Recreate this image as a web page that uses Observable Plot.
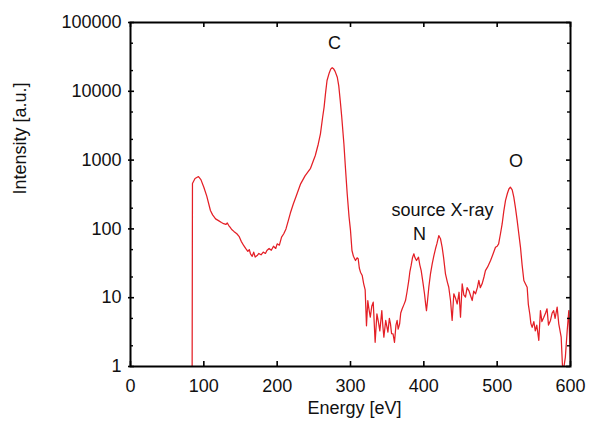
<!DOCTYPE html>
<html>
<head>
<meta charset="utf-8">
<script src="https://cdn.jsdelivr.net/npm/d3@7"></script>
<script src="https://cdn.jsdelivr.net/npm/@observablehq/plot@0.6"></script>
<style>
  html, body { margin: 0; padding: 0; background: #fff; }
</style>
</head>
<body>
<div id="chart"></div>
<script>
// Energy [eV] and intensity [a.u.]
const energy = [
  84, 84.5, 88, 92.7, 96, 100, 104, 109, 112, 116, 120, 124, 127, 130, 132, 134, 136, 138, 141, 145,
  148, 151, 154.5, 157, 160, 162, 163.6, 166, 168, 170, 172.7, 175, 178, 181, 184, 186, 189, 192, 195, 198,
  200, 203, 206, 209, 212, 215, 218, 222, 226, 232, 238, 245.5, 252, 256, 259, 262, 264, 266, 268, 271,
  273, 275, 277, 279, 282, 284, 286, 288, 291, 293, 295.5, 298, 300, 302, 304, 306.8, 309, 310.5, 312, 313.6, 316, 318,
  320, 321.8, 323.6, 325, 327, 329, 331, 333.6, 336, 338, 340, 342.7, 344, 345.5, 348, 350, 351, 353, 354.5, 356,
  358, 360, 362, 363.6, 365, 367, 368.5, 370.5, 373, 375, 377, 379.5, 381, 382.7, 384.5, 386.4, 388, 390, 392.7, 394.5,
  396.4, 399, 400.9, 402.5, 403.6, 405, 406.8, 409, 411.4, 413.5, 415.9, 418, 420.4, 422.7, 425, 427, 429.5, 432, 434, 436.4,
  438.6, 440.9, 443, 445.5, 448, 450, 452.3, 454.5, 456.8, 459, 461.4, 464, 466, 468, 470.5, 473, 475, 477, 479.5, 482,
  484, 487, 491, 494, 497.7, 500, 502, 504.5, 506.8, 509, 511.4, 514, 516, 518, 520.5, 522.7, 525, 527.3, 529.5, 531.8,
  534, 536.4, 538.5, 540.9, 542.5, 544.5, 546, 547.7, 550, 552, 554, 556.8, 559, 561, 563.6, 566, 568, 570, 572.7, 575,
  577, 579, 581.8, 584, 587.3, 589, 590.5, 593, 595.5, 597.7, 600
];
const intensity = [
  0.5, 457, 540, 577, 520, 404, 300, 185, 160, 140, 132, 124, 119, 116, 122, 112, 105, 98, 92, 85,
  78, 66, 57, 52, 47, 50, 43.5, 40, 46, 39, 41, 44, 42, 46, 44, 48.5, 52, 49, 56, 52,
  60.7, 58, 76, 85, 100, 130, 170, 230, 300, 452, 590, 760, 1166, 1700, 2410, 4200, 5890, 9500, 14350, 18500,
  21000, 22000, 21200, 19500, 16000, 12000, 7350, 4300, 1726, 800, 324, 150, 95, 48.5, 40, 34.7, 38, 36.8, 27, 23.5, 21, 15.9,
  13, 3.9, 9.1, 7, 5.2, 7.5, 8.6, 2.25, 5.8, 4.5, 3.3, 6.5, 4, 2.67, 4.67, 3.6, 3.15, 5, 4.17, 3,
  2.99, 2.25, 4, 4.67, 3.5, 4.17, 6, 6.9, 8, 9.1, 12, 17.8, 24, 29.4, 38, 43.5, 38, 34.7, 38.8, 30,
  24.8, 16, 11.4, 8, 6.5, 9, 14.2, 22, 31.1, 40, 51.4, 62, 80, 72, 54, 38, 22.2, 17, 14.2, 9.1,
  4.67, 11.4, 10, 8.1, 12, 5.2, 15.9, 11, 10.2, 14, 12.7, 10.5, 9.1, 12.5, 11.4, 14, 17.8, 14, 15.9, 20,
  24.8, 28, 34.7, 42, 54, 56, 60.7, 85, 118, 180, 260, 330, 380, 404, 370, 289, 200, 132, 85, 54,
  30, 17.8, 16, 14.2, 8, 5.8, 4.2, 3.7, 4.5, 3.3, 4, 2.4, 6.5, 4.5, 5.2, 6, 6.9, 4, 4.67, 6,
  6.5, 5, 7.3, 4.17, 2.67, 1.05, 0.9, 1.37, 3.3, 6.5, 1
];
const xTicks = [0, 100, 200, 300, 400, 500, 600];
const yTicks = [1, 10, 100, 1000, 10000, 100000];
const yMinor = [2, 5, 20, 50, 200, 500, 2000, 5000, 20000, 50000];
const labels = ["C", "O", "N", "source X-ray"];
const labelEnergy = [278.2, 525.7, 394, 425.5];
const labelIntensity = [49500, 970, 83, 185];
const xTitle = "Energy [eV]";
const yTitle = "Intensity [a.u.]";

const spectrum = energy.map((e, i) => ({e, v: intensity[i]}));
const notes = labels.map((t, i) => ({t, e: labelEnergy[i], v: labelIntensity[i]}));

const W = 589, H = 421;
const mL = 130, mR = 19, mT = 22, mB = 55;
const iw = W - mL - mR, ih = H - mT - mB;
const red = "#e41f26";

const chart = Plot.plot({
  width: W, height: H,
  marginLeft: mL, marginRight: mR, marginTop: mT, marginBottom: mB,
  style: {fontFamily: "'Liberation Sans', Arial, Helvetica, sans-serif", fontSize: "18px", color: "#111", background: "#fff", overflow: "visible"},
  x: {domain: [0, 600]},
  y: {type: "log", domain: [1, 100000]},
  marks: [
    Plot.line(spectrum, {x: "e", y: "v", stroke: red, strokeWidth: 1.25, clip: true}),
    Plot.text(notes, {x: "e", y: "v", text: "t", fill: "#111", fontSize: 18}),
    // inward ticks
    Plot.tickY(yTicks, {y: d => d, insetLeft: -2, insetRight: iw - 4, stroke: "black", strokeWidth: 1.6}),
    Plot.tickY(yTicks, {y: d => d, insetLeft: iw - 4, insetRight: 0, stroke: "black", strokeWidth: 1.6}),
    Plot.tickY(yMinor, {y: d => d, insetLeft: 0, insetRight: iw - 3, stroke: "black", strokeWidth: 1.4}),
    Plot.tickY(yMinor, {y: d => d, insetLeft: iw - 3, insetRight: 0, stroke: "black", strokeWidth: 1.4}),
    Plot.tickX(xTicks, {x: d => d, insetTop: ih - 5, insetBottom: 0, stroke: "black", strokeWidth: 1.6}),
    Plot.tickX(xTicks, {x: d => d, insetTop: 0, insetBottom: ih - 5, stroke: "black", strokeWidth: 1.6}),
    Plot.frame({stroke: "black", strokeWidth: 2}),
    Plot.axisX({ticks: xTicks, tickSize: 0, tickPadding: 13, tickFormat: d => String(d), label: null, fontSize: 18}),
    Plot.axisY({ticks: yTicks, tickSize: 0, tickPadding: 9, tickFormat: d => String(d), label: null, fontSize: 18}),
    Plot.text([xTitle], {frameAnchor: "bottom", dy: 47, dx: 4, text: d => d, fill: "#111", fontSize: 18}),
    Plot.text([yTitle], {frameAnchor: "left", dx: -110, rotate: -90, text: d => d, fill: "#111", fontSize: 18})
  ]
});
document.getElementById("chart").appendChild(chart);
</script>
</body>
</html>
